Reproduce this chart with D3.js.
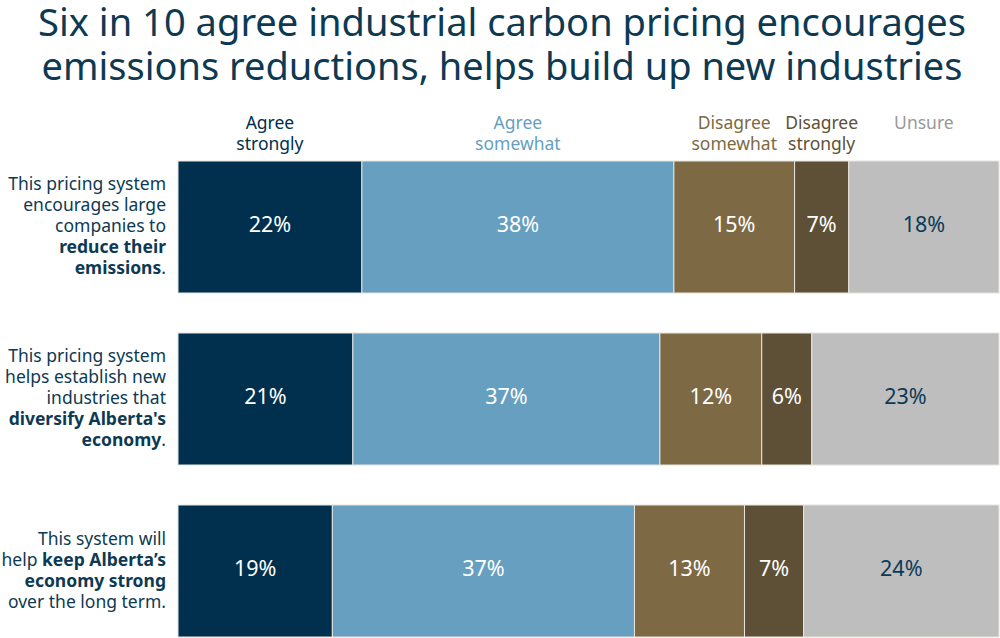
<!DOCTYPE html>
<html>
<head>
<meta charset="utf-8">
<script src="https://cdn.jsdelivr.net/npm/d3@7"></script>
<style>
  body { margin: 0; background: #fff; }
  svg text { font-family: "Noto Sans", "Open Sans", sans-serif; }
</style>
</head>
<body>
<svg id="chart"></svg>
<script>
// categories and responses
const statements = ['s1', 's2', 's3'];
const statementText = [
  [[{t: 'This pricing system'}], [{t: 'encourages large'}], [{t: 'companies to'}], [{t: 'reduce their', b: true}], [{t: 'emissions', b: true}, {t: '.'}]],
  [[{t: 'This pricing system'}], [{t: 'helps establish new'}], [{t: 'industries that'}], [{t: "diversify Alberta's", b: true}], [{t: 'economy', b: true}, {t: '.'}]],
  [[{t: 'This system will'}], [{t: 'help '}, {t: 'keep Alberta\u2019s', b: true}], [{t: 'economy strong', b: true}], [{t: 'over the long term.'}]]
];
const responses = ['Agree strongly', 'Agree somewhat', 'Disagree somewhat', 'Disagree strongly', 'Unsure'];
const responseLines = [['Agree', 'strongly'], ['Agree', 'somewhat'], ['Disagree', 'somewhat'], ['Disagree', 'strongly'], ['Unsure']];
const titleLines = ['Six in 10 agree industrial carbon pricing encourages', 'emissions reductions, helps build up new industries'];

// series values (share of respondents, %)
const agreeStrongly = [22.4, 21.3, 18.8];
const agreeSomewhat = [38.0, 37.4, 36.8];
const disagreeSomewhat = [14.7, 12.4, 13.4];
const disagreeStrongly = [6.6, 6.1, 7.2];
const unsure = [18.3, 22.8, 23.8];

const colors = ['#00304d', '#669fbf', '#7d6944', '#5e5036', '#bebebe'];
const legendColors = ['#00304d', '#669fbf', '#7d6944', '#5e5036', '#999999'];
const valueColors = ['#ffffff', '#ffffff', '#ffffff', '#ffffff', '#0b3a57'];

const width = 1000, height = 638;
const margin = { left: 178, right: 1, top: 161, bottom: 1 };

const rows = statements.map((s, i) => ({
  id: s,
  'Agree strongly': agreeStrongly[i],
  'Agree somewhat': agreeSomewhat[i],
  'Disagree somewhat': disagreeSomewhat[i],
  'Disagree strongly': disagreeStrongly[i],
  'Unsure': unsure[i]
}));

const series = d3.stack().keys(responses)(rows);

const svg = d3.select('#chart')
    .attr('width', width)
    .attr('height', height);

const x = d3.scaleLinear()
    .domain([0, 100])
    .range([margin.left, width - margin.right]);

const y = d3.scaleBand()
    .domain(statements)
    .range([margin.top, height - margin.bottom])
    .paddingInner(40 / 172)
    .paddingOuter(0);

// title
const titleLen = [928, 921];
svg.append('g').selectAll('text')
    .data(titleLines)
    .join('text')
      .attr('x', 502)
      .attr('y', (d, i) => 36 + i * 44)
      .attr('text-anchor', 'middle')
      .attr('fill', '#0d3a52')
      .attr('textLength', (d, i) => titleLen[i])
      .attr('lengthAdjust', 'spacingAndGlyphs')
      .style('font-size', '39px')
      .text(d => d);

// bars
const groups = svg.append('g').selectAll('g')
    .data(series)
    .join('g')
      .attr('fill', (d, i) => colors[i]);

groups.selectAll('rect')
    .data(d => d)
    .join('rect')
      .attr('x', d => x(d[0]))
      .attr('y', d => y(d.data.id))
      .attr('width', d => x(d[1]) - x(d[0]))
      .attr('height', y.bandwidth())
      .attr('stroke', '#e8e4dc')
      .attr('stroke-width', 1);

// value labels
groups.each(function(s, i) {
  d3.select(this).selectAll('text')
    .data(s)
    .join('text')
      .attr('x', d => (x(d[0]) + x(d[1])) / 2)
      .attr('y', d => y(d.data.id) + y.bandwidth() / 2 - 3)
      .attr('dy', '0.35em')
      .attr('text-anchor', 'middle')
      .attr('fill', valueColors[i])
      .style('font-size', '21.5px')
      .text(d => Math.round(d[1] - d[0]) + '%');
});

// column headers over the first bar
const first = series.map(s => s[0]);
svg.append('g').selectAll('text')
    .data(first)
    .join('text')
      .attr('text-anchor', 'middle')
      .attr('fill', (d, i) => legendColors[i])
      .style('font-size', '17.5px')
      .each(function(d, i) {
        const cx = (x(d[0]) + x(d[1])) / 2;
        d3.select(this).selectAll('tspan')
          .data(responseLines[i])
          .join('tspan')
            .attr('x', cx)
            .attr('y', (t, j) => 129 + j * 21)
            .text(t => t);
      });

// statement labels
svg.append('g').selectAll('text')
    .data(statements)
    .join('text')
      .attr('text-anchor', 'end')
      .attr('fill', '#0d3a52')
      .style('font-size', '17.5px')
      .each(function(s, i) {
        const lines = statementText[i];
        const cy = y(s) + y.bandwidth() / 2;
        const lh = 21;
        const top = cy - (lines.length - 1) * lh / 2 - 1;
        const txt = d3.select(this);
        lines.forEach((parts, j) => {
          parts.forEach((p, k) => {
            const ts = txt.append('tspan')
                .attr('font-weight', p.b ? 'bold' : null)
                .text(p.t);
            if (k === 0) ts.attr('x', 166).attr('y', top + j * lh).attr('dy', '0.35em');
          });
        });
      });
</script>
</body>
</html>
